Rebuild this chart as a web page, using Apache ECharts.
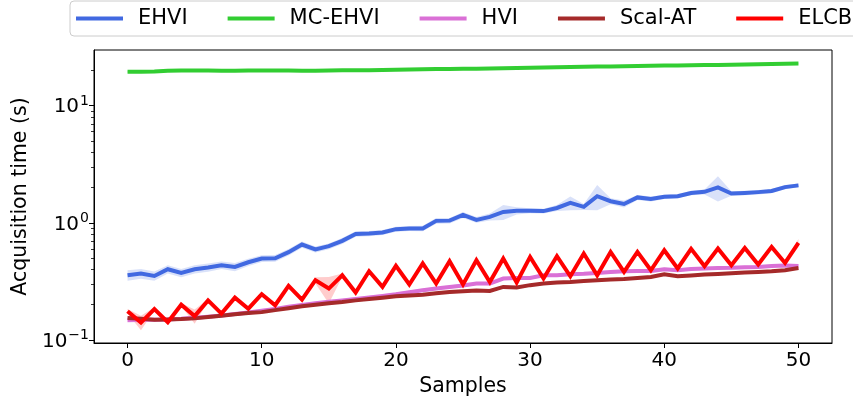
<!DOCTYPE html>
<html><head><meta charset="utf-8">
<script src="https://cdn.jsdelivr.net/npm/echarts@6/dist/echarts.min.js"></script>
<style>html,body{margin:0;padding:0;background:#fff}#c{width:853px;height:401px}</style>
</head><body><div id="c"></div>
<script>
const samples = [0,1,2,3,4,5,6,7,8,9,10,11,12,13,14,15,16,17,18,19,20,21,22,23,24,25,26,27,28,29,30,31,32,33,34,35,36,37,38,39,40,41,42,43,44,45,46,47,48,49,50];
const xTicks = [0,10,20,30,40,50];
const yMajorTicks = [0.1,1,10];
const yMinorTicks = [0.2,0.3,0.4,0.5,0.6,0.7,0.8,0.9,2,3,4,5,6,7,8,9,20];
const seriesNames = ['EHVI','MC-EHVI','HVI','Scal-AT','ELCB'];

const EHVI = [0.357,0.369,0.352,0.402,0.374,0.402,0.416,0.435,0.420,0.461,0.496,0.499,0.562,0.653,0.593,0.632,0.702,0.805,0.812,0.828,0.884,0.896,0.896,1.04,1.045,1.17,1.06,1.125,1.24,1.27,1.27,1.26,1.34,1.48,1.37,1.69,1.53,1.45,1.65,1.60,1.67,1.69,1.80,1.84,2.01,1.78,1.80,1.83,1.87,2.02,2.09];
const EHVI_std = [0.037,0.035,0.032,0.032,0.030,0.032,0.033,0.032,0.034,0.032,0.032,0.034,0.036,0.040,0.035,0.036,0.042,0.043,0.042,0.040,0.044,0.043,0.048,0.058,0.055,0.07,0.06,0.075,0.18,0.09,0.06,0.06,0.08,0.20,0.08,0.41,0.09,0.10,0.08,0.08,0.07,0.07,0.08,0.09,0.49,0.08,0.08,0.08,0.08,0.08,0.08];

const MCEHVI = [19.5,19.5,19.6,19.9,20.0,20.0,20.0,19.9,19.9,20.0,20.0,20.0,20.0,19.9,19.9,20.0,20.1,20.1,20.1,20.2,20.3,20.4,20.5,20.6,20.6,20.7,20.7,20.8,20.9,21.0,21.1,21.2,21.3,21.4,21.5,21.6,21.6,21.7,21.8,21.9,22.0,22.1,22.2,22.3,22.3,22.4,22.5,22.6,22.7,22.8,22.9];
const MCEHVI_std = [0.3,0.3,0.3,0.35,0.3,0.3,0.3,0.3,0.3,0.3,0.3,0.3,0.3,0.3,0.3,0.3,0.3,0.3,0.3,0.3,0.3,0.3,0.3,0.3,0.3,0.3,0.3,0.35,0.3,0.3,0.3,0.3,0.3,0.3,0.3,0.3,0.3,0.3,0.3,0.3,0.3,0.3,0.3,0.3,0.3,0.3,0.3,0.3,0.3,0.3,0.35];

const HVI = [0.148,0.149,0.149,0.150,0.152,0.155,0.158,0.162,0.167,0.172,0.178,0.184,0.192,0.199,0.206,0.212,0.218,0.224,0.231,0.238,0.246,0.256,0.266,0.275,0.284,0.292,0.303,0.303,0.335,0.338,0.338,0.357,0.357,0.364,0.367,0.374,0.381,0.386,0.388,0.388,0.402,0.395,0.404,0.407,0.412,0.413,0.418,0.420,0.429,0.433,0.429];
const HVI_std = [0.008,0.006,0.005,0.005,0.005,0.005,0.005,0.005,0.006,0.006,0.006,0.006,0.006,0.007,0.007,0.007,0.007,0.008,0.008,0.008,0.008,0.009,0.009,0.009,0.009,0.01,0.01,0.01,0.011,0.011,0.011,0.011,0.011,0.012,0.012,0.012,0.012,0.012,0.012,0.013,0.013,0.013,0.013,0.013,0.013,0.014,0.014,0.014,0.014,0.014,0.014];

const ScalAT = [0.154,0.152,0.149,0.150,0.151,0.153,0.157,0.161,0.166,0.170,0.173,0.180,0.187,0.194,0.200,0.206,0.211,0.218,0.224,0.230,0.236,0.240,0.244,0.251,0.257,0.261,0.264,0.262,0.284,0.281,0.294,0.303,0.309,0.313,0.319,0.323,0.328,0.332,0.339,0.345,0.364,0.350,0.355,0.362,0.366,0.372,0.377,0.381,0.386,0.394,0.412];
const ScalAT_std = [0.004,0.003,0.003,0.003,0.003,0.003,0.003,0.003,0.004,0.004,0.004,0.004,0.004,0.004,0.004,0.004,0.004,0.005,0.005,0.005,0.005,0.005,0.005,0.005,0.005,0.005,0.005,0.005,0.006,0.006,0.006,0.006,0.006,0.006,0.006,0.006,0.006,0.006,0.006,0.006,0.007,0.006,0.006,0.006,0.006,0.006,0.006,0.006,0.006,0.006,0.007];

const ELCB = [0.176,0.141,0.184,0.142,0.200,0.160,0.218,0.168,0.230,0.185,0.246,0.198,0.290,0.221,0.324,0.275,0.357,0.254,0.386,0.284,0.430,0.298,0.450,0.303,0.471,0.298,0.480,0.313,0.496,0.310,0.512,0.335,0.519,0.350,0.547,0.357,0.565,0.381,0.565,0.394,0.584,0.408,0.600,0.427,0.604,0.435,0.611,0.441,0.624,0.455,0.675];
const ELCB_std = [0.008,0.02,0.006,0.006,0.006,0.022,0.006,0.006,0.006,0.006,0.007,0.007,0.008,0.008,0.02,0.07,0.012,0.008,0.008,0.008,0.009,0.009,0.009,0.009,0.01,0.009,0.01,0.009,0.01,0.009,0.01,0.009,0.01,0.01,0.011,0.01,0.011,0.01,0.011,0.01,0.012,0.01,0.012,0.011,0.012,0.011,0.012,0.011,0.012,0.012,0.055];

const colors = {EHVI:'#4169E1','MC-EHVI':'#32CD32',HVI:'#DA70D6','Scal-AT':'#A52A2A',ELCB:'#FF0000'};
const lineData = {EHVI:[EHVI,EHVI_std],'MC-EHVI':[MCEHVI,MCEHVI_std],HVI:[HVI,HVI_std],'Scal-AT':[ScalAT,ScalAT_std],ELCB:[ELCB,ELCB_std]};

const FONT = 'DejaVu Sans';
const chart = echarts.init(document.getElementById('c'), null, {renderer:'canvas'});

function bandSeries(name){
  const [v, s] = lineData[name];
  return {
    type:'custom', silent:true, z:1, clip:true,
    data:[[samples[0], v[0]]], encode:{x:0,y:1},
    renderItem:function(params, api){
      const pts = [];
      for (let i=0;i<samples.length;i++) pts.push(api.coord([samples[i], v[i]+s[i]]));
      for (let i=samples.length-1;i>=0;i--) pts.push(api.coord([samples[i], Math.max(v[i]-s[i], 1e-3)]));
      return {type:'polygon', shape:{points:pts}, style:{fill:colors[name], opacity:0.2}};
    }
  };
}
function lineSeries(name, z){
  const v = lineData[name][0];
  return {
    name:name, type:'line', z:z, showSymbol:false, symbol:'none', smooth:false,
    data: samples.map((x,i)=>[x, v[i]]),
    lineStyle:{color:colors[name], width:4, cap:'butt', join:'miter'},
    itemStyle:{color:colors[name]},
    animation:false
  };
}

const series = [];
seriesNames.forEach((n,k)=>{ series.push(bandSeries(n)); series.push(lineSeries(n, 3+k)); });

const option = {
  animation:false,
  textStyle:{fontFamily:FONT},
  grid:{left:94, right:21, top:50, bottom:58, show:true, borderColor:'#000', borderWidth:1, backgroundColor:'transparent', containLabel:false, outerBoundsMode:'none'},
  legend:{
    data: seriesNames.map(n=>({name:n, icon:'rect'})),
    left:70, top:1, width:900, itemWidth:47, itemHeight:4, itemGap:40,
    padding:[7,10,7,6],
    borderColor:'#cccccc', borderWidth:1, borderRadius:4, backgroundColor:'#fff',
    textStyle:{fontSize:21, color:'#000', fontFamily:FONT, padding:[0,0,0,10]}
  },
  xAxis:{
    type:'value', min:-2.5, max:52.5, name:'Samples', nameLocation:'middle', nameGap:33,
    nameTextStyle:{fontSize:20.5, color:'#000', fontFamily:FONT},
    axisLine:{show:true, onZero:false, lineStyle:{color:'#000', width:1}},
    axisTick:{show:true, length:5, lineStyle:{color:'#000', width:1}, customValues:xTicks},
    axisLabel:{fontSize:20, color:'#000', margin:8, fontFamily:FONT, customValues:xTicks},
    splitLine:{show:false}
  },
  yAxis:[{
    type:'log', logBase:10, min:0.0943, max:29.9,
    name:'Acquisition time (s)', nameLocation:'middle', nameGap:59,
    nameTextStyle:{fontSize:20.5, color:'#000', fontFamily:FONT},
    axisLine:{show:true, onZero:false, lineStyle:{color:'#000', width:1}},
    axisTick:{show:true, length:5, lineStyle:{color:'#000', width:1}, customValues:yMajorTicks},
    axisLabel:{
      margin:5, color:'#000', customValues:yMajorTicks,
      formatter:function(val){
        const e = Math.round(Math.log10(val));
        return '{b|10}{s|' + (e<0 ? '\u2212'+(-e) : e) + '}';
      },
      rich:{
        b:{fontSize:20, color:'#000', fontFamily:FONT, verticalAlign:'bottom'},
        s:{fontSize:14, color:'#000', fontFamily:FONT, verticalAlign:'bottom', padding:[0,0,9,1]}
      }
    },
    splitLine:{show:false}
  },{
    type:'log', logBase:10, min:0.0943, max:29.9, position:'left', offset:0,
    axisLine:{show:false, onZero:false},
    axisTick:{show:true, length:3, lineStyle:{color:'#000', width:0.8}, customValues:yMinorTicks},
    axisLabel:{show:false},
    splitLine:{show:false}
  }],
  series: series
};
chart.setOption(option);
</script>
</body></html>
